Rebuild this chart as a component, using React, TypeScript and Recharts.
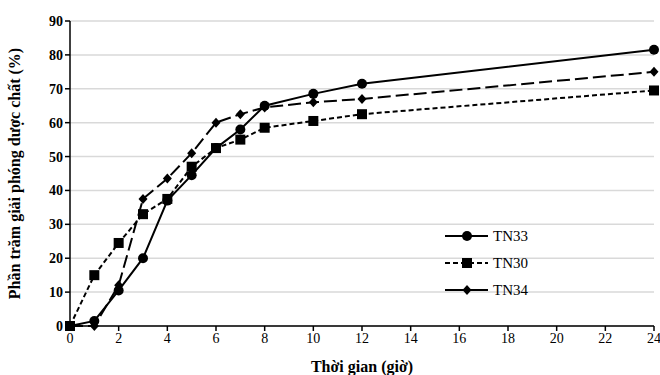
import React from 'react';
import { LineChart, Line, XAxis, YAxis, CartesianGrid, Label } from 'recharts';

const hours = [0, 1, 2, 3, 4, 5, 6, 7, 8, 10, 12, 24];
const tn33 = [0, 1.5, 10.5, 20, 37, 44.5, 52.5, 58, 65, 68.5, 71.5, 81.5];
const tn30 = [0, 15, 24.5, 33, 37.5, 47, 52.5, 55, 58.5, 60.5, 62.5, 69.5];
const tn34 = [0, 0, 12, 37.5, 43.5, 51, 60, 62.5, 64.5, 66, 67, 75];
const xTicks = [0, 2, 4, 6, 8, 10, 12, 14, 16, 18, 20, 22, 24];
const yTicks = [0, 10, 20, 30, 40, 50, 60, 70, 80, 90];

const data = hours.map((h, i) => ({ h, tn33: tn33[i], tn30: tn30[i], tn34: tn34[i] }));

const FONT = 'Liberation Serif';

const Circle = (p: any) => <circle key={p.key} cx={p.cx} cy={p.cy} r={5} fill="#000" />;
const Square = (p: any) => <rect key={p.key} x={p.cx - 5} y={p.cy - 5} width={10} height={10} fill="#000" />;
const Diamond = (p: any) => (
  <path key={p.key} d={`M${p.cx},${p.cy - 5}L${p.cx + 4.5},${p.cy}L${p.cx},${p.cy + 5}L${p.cx - 4.5},${p.cy}Z`} fill="#000" />
);

// legend drawn by hand (Excel shows TN34 legend line solid)
const LegendBox = () => {
  const rows = [
    { name: 'TN33', dash: undefined, mark: 'c' },
    { name: 'TN30', dash: '5 3', mark: 's' },
    { name: 'TN34', dash: undefined, mark: 'd' },
  ];
  return (
    <svg width={110} height={90} style={{ position: 'absolute', left: 443, top: 225 }}>
      {rows.map((r, i) => {
        const y = 11 + i * 27;
        return (
          <g key={r.name}>
            <line x1={2} x2={45} y1={y} y2={y} stroke="#000" strokeWidth={2} strokeDasharray={r.dash} />
            {r.mark === 'c' && <circle cx={24} cy={y} r={5} fill="#000" />}
            {r.mark === 's' && <rect x={19} y={y - 5} width={10} height={10} fill="#000" />}
            {r.mark === 'd' && <path d={`M24,${y - 5}L28.5,${y}L24,${y + 5}L19.5,${y}Z`} fill="#000" />}
            <text x={50} y={y + 5} style={{ fontFamily: FONT, fontSize: 15 }} fill="#000">{r.name}</text>
          </g>
        );
      })}
    </svg>
  );
};

export default function App() {
  return (
    <div style={{ position: 'relative', width: 660, height: 375, background: '#fff', fontFamily: FONT }}>
      <style>{'body{margin:0}'}</style>
      <LineChart width={660} height={375} data={data} margin={{ top: 21, right: 6, left: 0, bottom: 19 }} style={{ fontFamily: FONT }}>
        <CartesianGrid vertical={false} stroke="#d9d9d9" strokeWidth={1.5} />
        <XAxis
          dataKey="h"
          type="number"
          domain={[0, 24]}
          ticks={xTicks}
          interval={0}
          stroke="#000"
          strokeWidth={1.5}
          tickSize={5}
          tick={{ fontSize: 14, fill: '#000', style: { fontFamily: FONT } }}
        >
          <Label value="Thời gian (giờ)" position="insideBottom" offset={-16} style={{ fontSize: 16, fontWeight: 'bold', fontFamily: FONT, fill: '#000' }} />
        </XAxis>
        <YAxis
          width={70}
          type="number"
          domain={[0, 90]}
          ticks={yTicks}
          interval={0}
          stroke="#000"
          strokeWidth={1.5}
          tickSize={5}
          tick={{ fontSize: 14, fontWeight: 'bold', fill: '#000', style: { fontFamily: FONT } }}
        >
          <Label value="Phần trăm giải phóng dược chất (%)" angle={-90} position="insideLeft" offset={14} style={{ textAnchor: 'middle', fontSize: 16, fontWeight: 'bold', fontFamily: FONT, fill: '#000' }} />
        </YAxis>
        <Line dataKey="tn33" name="TN33" stroke="#000" strokeWidth={2} dot={Circle} activeDot={false} isAnimationActive={false} />
        <Line dataKey="tn30" name="TN30" stroke="#000" strokeWidth={2} strokeDasharray="5 3" dot={Square} activeDot={false} isAnimationActive={false} />
        <Line dataKey="tn34" name="TN34" stroke="#000" strokeWidth={2} strokeDasharray="13 5" dot={Diamond} activeDot={false} isAnimationActive={false} />
      </LineChart>
      <LegendBox />
    </div>
  );
}
